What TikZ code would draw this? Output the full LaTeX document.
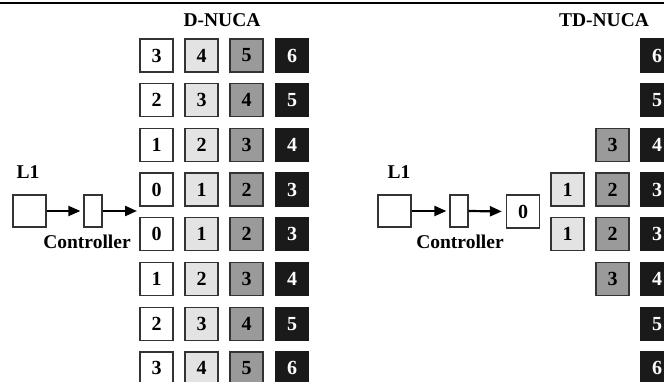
\documentclass[tikz,border=0pt]{standalone}
\usepackage{fontspec}
\setmainfont{Liberation Serif}
\usetikzlibrary{arrows.meta}
\definecolor{edge}{HTML}{333333}
\definecolor{bankA}{HTML}{FFFFFF}
\definecolor{bankB}{HTML}{E3E3E3}
\definecolor{bankC}{HTML}{9A9A9A}
\definecolor{bankD}{HTML}{1A1A1A}
\tikzset{
  lbl/.style={font=\fontsize{19.5}{22}\selectfont\bfseries, inner sep=0pt},
  bank/.style={draw=edge, line width=1.3pt, minimum width=33pt, minimum height=33pt,
    inner sep=0pt, font=\fontsize{20}{22}\selectfont\bfseries},
  bankw/.style={bank, fill=bankA},
  bankl/.style={bank, fill=bankB},
  bankg/.style={bank, fill=bankC},
  bankk/.style={bank, fill=bankD, draw=bankD, text=white},
  cache/.style={draw=edge, line width=1.3pt, minimum width=33pt, minimum height=32pt, inner sep=0pt},
  ctrl/.style={draw=edge, line width=1.3pt, minimum width=18pt, minimum height=32pt, inner sep=0pt},
  link/.style={line width=2.2pt, -{Triangle[length=12pt,width=10pt]}},
}
\begin{document}
\begin{tikzpicture}[x=1pt,y=-1pt]
\useasboundingbox (0,0) rectangle (664,382);
\draw[line width=1.5pt] (0,3) -- (664,3);

% ---- D-NUCA ----
\node[lbl] (dtitle) at (222,20) {D-NUCA};
\node[lbl] (dl1) at (28,172) {L1};
\node[cache] (dcache) at (29.5,211) {};
\node[ctrl] (dctrl) at (93,211) {};
\node[lbl] (dctrltext) at (87,242) {Controller};
\coordinate (dend) at (137,211);
\draw[link, shorten >=3pt] (dcache.east) -- (dctrl.west);
\draw[link] (dctrl.east) -- (dend);

\foreach \r/\b in {0/3,1/2,2/1,3/0,4/0,5/1,6/2,7/3}{
  \pgfmathsetmacro{\yy}{55.5+44.7*\r}
  \pgfmathtruncatemacro{\va}{\b}
  \pgfmathtruncatemacro{\vb}{\b+1}
  \pgfmathtruncatemacro{\vc}{\b+2}
  \pgfmathtruncatemacro{\vd}{\b+3}
  \node[bankw] (d\r a) at (156.5,\yy) {\va};
  \node[bankl] (d\r b) at (201.5,\yy) {\vb};
  \node[bankg] (d\r c) at (246.5,\yy) {\vc};
  \node[bankk] (d\r d) at (292,\yy) {\vd};
}

% ---- TD-NUCA ----
\node[lbl] (ttitle) at (604,20) {TD-NUCA};
\node[lbl] (tl1) at (399,172) {L1};
\node[cache] (tcache) at (394.5,211) {};
\node[ctrl] (tctrl) at (459,211) {};
\node[lbl] (tctrltext) at (460,242) {Controller};
\node[bankw] (tzero) at (523,211.5) {0};
\draw[link, shorten >=3pt] (tcache.east) -- (tctrl.west);
\draw[link, shorten >=4pt] (tctrl.east) -- (tzero.west);

\foreach \r/\v in {0/6,1/5,2/4,3/3,4/3,5/4,6/5,7/6}{
  \pgfmathsetmacro{\yy}{55.5+44.7*\r}
  \node[bankk] (t\r d) at (657,\yy) {\v};
}
\node[bankg] (t2c) at (612.5,144.9) {3};
\node[bankl] (t3b) at (567.5,189.6) {1};
\node[bankg] (t3c) at (612.5,189.6) {2};
\node[bankl] (t4b) at (567.5,234.3) {1};
\node[bankg] (t4c) at (612.5,234.3) {2};
\node[bankg] (t5c) at (612.5,279.0) {3};
\end{tikzpicture}
\end{document}
